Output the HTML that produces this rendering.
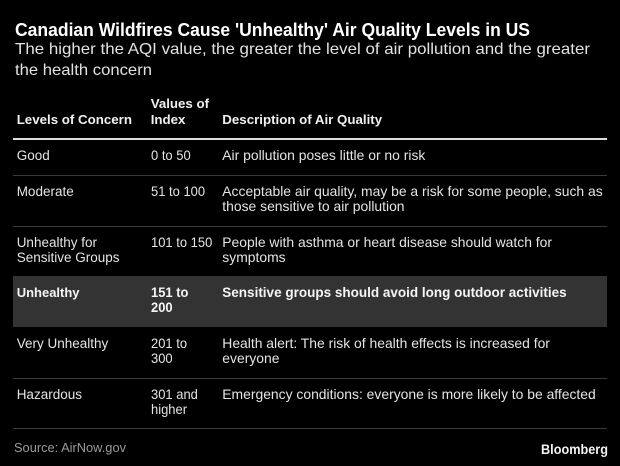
<!DOCTYPE html>
<html>
<head>
<meta charset="utf-8">
<style>
  html, body { margin:0; padding:0; }
  body { width:620px; height:466px; background:#000; position:relative; overflow:hidden;
         font-family:"Liberation Sans", Arial, sans-serif; color:#e6e6e6; }
  .a { position:absolute; white-space:nowrap; }
  .fit { transform-origin:0 0; display:inline-block; }
  .title { font-size:18px; line-height:18px; font-weight:bold; color:#fff; }
  .sub { font-size:16px; line-height:16px; color:#e2e2e2; }
  .hd { font-size:13.3px; line-height:16px; font-weight:bold; color:#f0f0f0; }
  .c { line-height:15.3px; color:#e4e4e4; }
  .c1 { left:16.7px; font-size:13.5px; }
  .c2 { left:150.7px; font-size:13.8px; transform:scaleX(0.94); transform-origin:0 0; }
  .c3 { left:222.3px; font-size:13.9px; }
  .b { font-weight:bold; color:#f5f5f5; }
  .b1 { font-size:13px; }
  .b2 { font-size:13.5px; transform:scaleX(0.96); transform-origin:0 0; }
  .b3 { font-size:13.5px; }
  .rule { position:absolute; left:13px; width:594px; height:1px; background:#3a3a3a; }
  .src { font-size:13px; line-height:13px; color:#9a9a9a; }
  .bbg { font-size:14px; line-height:14px; font-weight:bold; color:#f2f2f2; }
</style>
</head>
<body>
  <div class="a title" style="left:15px; top:20.8px;"><span class="fit" id="t1">Canadian Wildfires Cause 'Unhealthy' Air Quality Levels in US</span></div>
  <div class="a sub" style="left:15px; top:41.5px;"><span class="fit" id="s1">The higher the AQI value, the greater the level of air pollution and the greater</span></div>
  <div class="a sub" style="left:15px; top:62.5px;"><span class="fit" id="s2">the health concern</span></div>

  <div class="a hd" style="left:16.7px; top:112.3px;">Levels of Concern</div>
  <div class="a hd" style="left:150.7px; top:96.3px;">Values of<br>Index</div>
  <div class="a hd" style="left:222.3px; top:112.3px;">Description of Air Quality</div>

  <div style="position:absolute; left:13px; top:138px; width:594px; height:2px; background:#dcdcdc;"></div>

  <!-- Row 1 -->
  <div class="a c c1" style="top:148.4px;">Good</div>
  <div class="a c c2" style="top:148.4px;">0 to 50</div>
  <div class="a c c3" style="top:148.3px;">Air pollution poses little or no risk</div>
  <div class="rule" style="top:175px;"></div>

  <!-- Row 2 -->
  <div class="a c c1" style="top:183.6px;">Moderate</div>
  <div class="a c c2" style="top:183.6px;">51 to 100</div>
  <div class="a c c3" style="top:183.5px;">Acceptable air quality, may be a risk for some people, such as<br>those sensitive to air pollution</div>
  <div class="rule" style="top:225.5px;"></div>

  <!-- Row 3 -->
  <div class="a c c1" style="top:234.6px;">Unhealthy for<br>Sensitive Groups</div>
  <div class="a c c2" style="top:234.6px;">101 to 150</div>
  <div class="a c c3" style="top:234.5px;">People with asthma or heart disease should watch for<br>symptoms</div>

  <!-- Row 4 highlight -->
  <div style="position:absolute; left:13.3px; top:275.7px; width:593.4px; height:51.3px; background:#333;"></div>
  <div class="a c b b1" style="left:16.7px; top:285.2px;">Unhealthy</div>
  <div class="a c b b2" style="left:150.7px; top:285.0px;">151 to<br>200</div>
  <div class="a c b b3" style="left:222.3px; top:285.0px;">Sensitive groups should avoid long outdoor activities</div>

  <!-- Row 5 -->
  <div class="a c c1" style="top:336.0px;">Very Unhealthy</div>
  <div class="a c c2" style="top:336.0px;">201 to<br>300</div>
  <div class="a c c3" style="top:335.9px;">Health alert: The risk of health effects is increased for<br>everyone</div>
  <div class="rule" style="top:377.5px;"></div>

  <!-- Row 6 -->
  <div class="a c c1" style="top:386.7px;">Hazardous</div>
  <div class="a c c2" style="top:386.7px;">301 and<br>higher</div>
  <div class="a c c3" style="top:386.6px;">Emergency conditions: everyone is more likely to be affected</div>
  <div class="rule" style="top:427.5px;"></div>

  <div class="a src" style="left:14px; top:440.7px;"><span class="fit" id="src">Source: AirNow.gov</span></div>
  <div class="a bbg" style="left:541px; top:442.2px;"><span class="fit" id="bb">Bloomberg</span></div>

<script>
  (function(){
    var targets = [["t1",515],["s1",575],["s2",137],["src",112],["bb",67]];
    for (var i=0;i<targets.length;i++){
      var el = document.getElementById(targets[i][0]);
      if(!el) continue;
      var w = el.getBoundingClientRect().width;
      if (w>0) el.style.transform = "scaleX(" + (targets[i][1]/w) + ")";
    }
  })();
</script>
</body>
</html>
